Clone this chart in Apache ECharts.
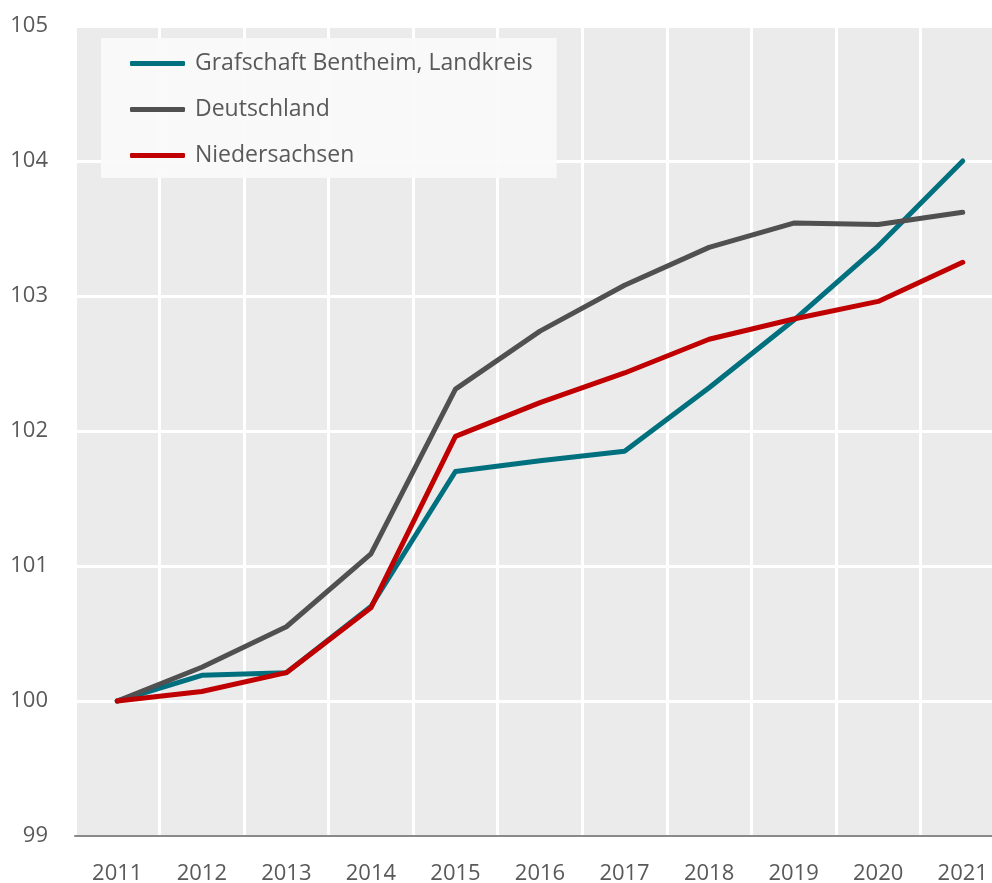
<!DOCTYPE html>
<html>
<head>
<meta charset="utf-8">
<script src="https://cdn.jsdelivr.net/npm/echarts@6/dist/echarts.min.js"></script>
<style>html,body{margin:0;padding:0;background:#fff}#c{width:992px;height:883px}</style>
</head>
<body>
<div id="c"></div>
<script>
const years = ['2011','2012','2013','2014','2015','2016','2017','2018','2019','2020','2021'];
const grafschaft = [100, 100.19, 100.21, 100.70, 101.70, 101.78, 101.85, 102.32, 102.82, 103.37, 104.00];
const deutschland = [100, 100.25, 100.55, 101.09, 102.31, 102.74, 103.08, 103.36, 103.54, 103.53, 103.62];
const niedersachsen = [100, 100.07, 100.21, 100.69, 101.96, 102.21, 102.43, 102.68, 102.83, 102.96, 103.25];
const seriesNames = ['Grafschaft Bentheim, Landkreis', 'Deutschland', 'Niedersachsen'];
const colors = ['#00707f', '#505050', '#c00000'];

const font = '"Open Sans", "Noto Sans", sans-serif';
const chart = echarts.init(document.getElementById('c'), null, {renderer: 'canvas'});
const mk = (name, data, color) => ({
  name, type: 'line', data, symbol: 'none', color,
  lineStyle: {width: 5, color, cap: 'round', join: 'round'},
  emphasis: {disabled: true}, animation: false
});
chart.setOption({
  animation: false,
  textStyle: {fontFamily: font},
  grid: {left: 75, top: 26, right: -13, bottom: 47, outerBoundsMode: 'none', containLabel: false,
         show: true, backgroundColor: '#ebebeb', borderWidth: 0},
  legend: {
    orient: 'vertical', left: 101, top: 38,
    backgroundColor: 'rgba(250,250,250,0.92)',
    padding: [14, 24, 11, 29],
    itemWidth: 55, itemHeight: 5, itemGap: 23,
    icon: 'roundRect',
    textStyle: {fontSize: 23, color: '#595959', fontFamily: font, padding: [0, 0, 0, 5]},
    data: seriesNames
  },
  xAxis: {
    type: 'category', data: years, boundaryGap: true,
    axisLine: {show: true, lineStyle: {color: '#898989', width: 2}},
    axisTick: {show: false},
    axisLabel: {fontSize: 22, color: '#595959', margin: 27, fontFamily: font},
    splitLine: {show: true, lineStyle: {color: '#ffffff', width: 3}}
  },
  yAxis: {
    type: 'value', min: 99, max: 105, interval: 1,
    axisLine: {show: false}, axisTick: {show: false},
    axisLabel: {fontSize: 22, color: '#595959', margin: 27, fontFamily: font},
    splitLine: {show: true, lineStyle: {color: '#ffffff', width: 3}}
  },
  series: [
    mk(seriesNames[0], grafschaft, colors[0]),
    mk(seriesNames[1], deutschland, colors[1]),
    mk(seriesNames[2], niedersachsen, colors[2])
  ]
});
</script>
</body>
</html>
